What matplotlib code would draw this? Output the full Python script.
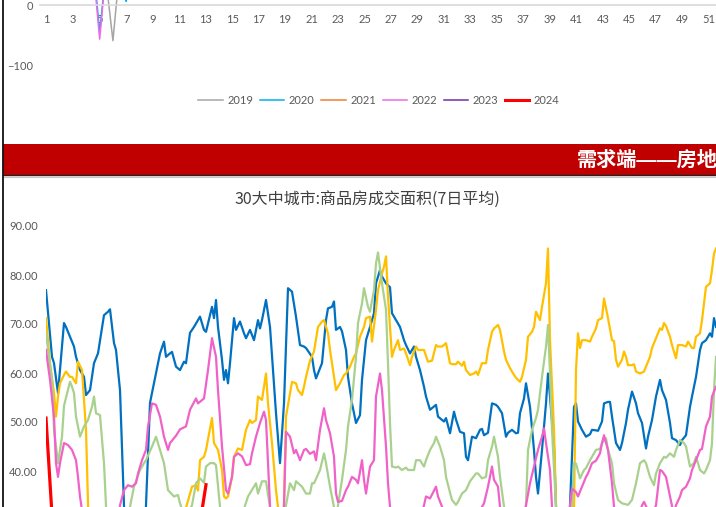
import matplotlib
matplotlib.use("Agg")
import matplotlib.pyplot as plt
from matplotlib.lines import Line2D
from matplotlib.patches import Rectangle
import numpy as np

plt.rcParams['font.family'] = ['Lato', 'Noto Sans CJK SC', 'DejaVu Sans']

# ---- top chart: weekly series, only the bottom strip is visible ----
weeks = list(range(1, 53))
top_years = ['2019', '2020', '2021', '2022', '2023', '2024']
top_colors = ['#A5A5A5', '#00B0F0', '#ED7D31', '#EE6AE6', '#7030A0', '#FF0000']
y2019 = [35, 28, 42, 60, 132, -58.5, 172, 95, 48, 40, 36, 30, 25, 28, 33, 30, 27, 24, 22, 26,
         30, 28, 25, 23, 27, 31, 29, 26, 24, 22, 25, 28, 30, 27, 24, 26, 29, 31, 34, 36,
         33, 30, 28, 26, 29, 32, 35, 38, 40, 37, 34, 45]
y2020 = [40, 55, 70, 186, -45, 168, 6, 120, 150, 210, 180, 140, 110, 90, 70, 60, 50, 45, 40, 38,
         36, 34, 30, 32, 35, 38, 36, 33, 30, 28, 30, 32, 35, 37, 40, 42, 38, 36, 34, 32,
         35, 38, 40, 42, 39, 36, 33, 35, 38, 40, 42, 44]
y2021 = [30, 45, 60, 90, 150, 200, 120, 80, 70, 60, 55, 50, 45, 40, 38, 35, 33, 30, 28, 26,
         25, 24, 22, 20, 22, 24, 23, 21, 20, 19, 18, 20, 22, 21, 19, 18, 17, 19, 21, 20,
         18, 17, 16, 18, 20, 22, 21, 19, 18, 20, 22, 24]
y2022 = [60, 80, 110, 182, -56, 182, 130, 90, 70, 60, 50, 45, 40, 36, 33, 30, 28, 26, 24, 22,
         20, 22, 24, 26, 25, 23, 21, 20, 22, 24, 26, 28, 27, 25, 23, 22, 24, 26, 28, 30,
         29, 27, 25, 24, 26, 28, 30, 32, 31, 29, 28, 30]
y2023 = [90, 130, 160, 140, 110, 100, 150, 120, 90, 80, 70, 65, 60, 55, 50, 48, 45, 42, 40, 38,
         36, 35, 34, 33, 32, 31, 30, 32, 34, 33, 31, 30, 29, 31, 33, 35, 34, 32, 30, 29,
         31, 33, 35, 34, 32, 30, 31, 33, 35, 36, 34, 33]
y2024 = [50, 70, 85, 100, 120, 150, 140, 110, 90, 80, 70, 65, 60]
top_series = [y2019, y2020, y2021, y2022, y2023, y2024]

# ---- bottom chart: 30 cities, 7-day average (day of year, value) ----
s2019 = [(1, 76.9), (4, 63.3), (5, 62), (7, 55.9), (10, 70.2), (11, 69.4), (15, 65.4), (16, 63.3),
         (18, 60.6), (20, 59.2), (21, 55.5), (23, 56.5), (25, 62), (27, 64), (30, 71.8), (32, 72.5),
         (33, 73), (35, 66.1), (36, 64.7), (38, 56.5), (40, 32.7), (43, 15), (46, 8), (49, 14),
         (51, 33), (53, 53.9), (56, 60), (58, 64), (60, 66.4), (61, 63.3), (63, 64), (64, 64.3),
         (66, 61.3), (68, 60.6), (70, 62.3), (71, 62), (73, 68.2), (75, 69.4), (78, 71.5), (80, 68.8),
         (81, 68.4), (84, 73.5), (85, 71.2), (86, 74.9), (87, 69.4), (89, 62.7), (90, 58.6), (91, 60.6),
         (92, 57.9), (93, 62), (95, 71.2), (96, 68.8), (98, 70.5), (100, 68.1), (101, 67.1), (103, 68.8),
         (105, 66.7), (107, 70.8), (108, 69.1), (109, 70.8), (111, 74.9), (113, 69.4), (116, 51.8),
         (118, 41.6), (120, 53.8), (122, 77.3), (124, 76.6), (126, 71.5), (128, 65.7), (130, 65.4),
         (131, 65.1), (134, 63.3), (135, 60.6), (136, 58.9), (139, 62), (141, 70.8), (142, 73.2),
         (144, 73.5), (145, 74.6), (146, 68.8), (148, 69.4), (149, 68.5), (151, 64.7), (152, 59.2),
         (154, 53.8), (156, 49.8), (158, 51.4), (159, 58.6), (161, 66.7), (163, 69.4), (165, 72.2),
         (166, 78.3), (168, 81), (169, 79.7), (171, 78.3), (173, 77.5), (174, 72.2), (176, 70.8),
         (178, 69.4), (180, 66.7), (181, 65.7), (183, 64), (185, 65.4), (186, 63.3), (188, 60.6),
         (190, 57.2), (191, 55.2), (193, 52.5), (196, 53.5), (197, 51.1), (200, 50.1), (201, 50.8),
         (203, 47.7), (205, 52.1), (206, 50.5), (208, 48), (210, 47.7), (211, 42.9), (212, 42.2),
         (214, 47), (216, 46.7), (218, 48.4), (219, 48.6), (220, 47.3), (222, 47.8), (224, 53.8),
         (226, 53.5), (227, 53.1), (229, 51.8), (231, 47), (232, 47.8), (234, 48.4), (236, 47.7),
         (237, 47.8), (238, 51.8), (240, 54.8), (241, 57.9), (243, 53.1), (245, 44.3), (246, 38.8),
         (247, 35.4), (249, 44.3), (251, 53.8), (252, 59.9), (253, 55.2), (255, 45), (256, 32.7),
         (258, 15), (260, 8), (262, 20), (263, 33), (265, 53.1), (266, 53.8), (267, 50.1), (269, 48.4),
         (271, 47), (273, 47.5), (274, 48.4), (276, 48.3), (277, 48.2), (279, 50.1), (280, 53.8),
         (282, 54.1), (283, 54.1), (284, 51.1), (286, 45.7), (288, 44.3), (289, 45.7), (291, 49.8),
         (292, 52.5), (294, 56.2), (296, 53.8), (297, 51.8), (299, 49.8), (301, 44.6), (302, 47),
         (304, 50.4), (306, 55.2), (308, 58.6), (309, 56.5), (311, 54.5), (313, 49.8), (314, 46.7),
         (316, 46.3), (318, 45.3), (319, 46.3), (321, 47.3), (323, 53.1), (324, 55.2), (326, 59.2),
         (328, 64.7), (329, 66.1), (331, 66.7), (333, 68.1), (334, 67.4), (335, 71.2), (336, 69.4)]

s2020 = [(1, 71.2), (3, 62), (5, 55.9), (6, 51.1), (7, 55.2), (8, 57.9), (10, 59.6), (11, 60.3),
         (13, 59.2), (14, 59.2), (16, 57.9), (17, 62.3), (19, 60.6), (21, 48.4), (22, 32.7), (25, 22),
         (30, 10), (35, 5), (40, 4), (45, 6), (50, 10), (55, 15), (60, 20), (65, 24), (71, 32.5),
         (74, 36.8), (76, 37.1), (77, 36), (78, 42.2), (80, 42.9), (81, 44.3), (84, 50.8), (85, 45.7),
         (87, 44.3), (89, 40.2), (90, 34.8), (91, 34.4), (92, 34.8), (94, 38.8), (95, 42.9), (97, 44.6),
         (99, 44.3), (101, 48.4), (103, 50.4), (104, 49.8), (106, 50.4), (107, 55.2), (109, 54.5),
         (111, 59.9), (112, 53.8), (114, 45.7), (116, 36.1), (117, 32.7), (118, 28), (119, 30),
         (120, 33), (121, 51.1), (123, 55.9), (124, 58.2), (126, 57.9), (127, 56.5), (129, 55.5),
         (130, 57.2), (131, 59.2), (133, 62.5), (135, 64.4), (137, 69.4), (139, 70.5), (140, 70.8),
         (142, 68.1), (143, 64.7), (145, 59.2), (146, 56.5), (148, 57.9), (150, 59.6), (151, 59.9),
         (153, 61.3), (155, 63.3), (156, 64), (158, 67.4), (160, 69.4), (161, 71.2), (163, 71.5),
         (164, 66.4), (166, 72.9), (167, 76.9), (169, 80.3), (170, 81.7), (171, 83.8), (172, 75.6),
         (174, 63.3), (175, 64.7), (177, 66.7), (178, 64.7), (180, 65), (181, 64), (183, 61.6),
         (184, 63.3), (186, 65.4), (187, 64.7), (190, 64.7), (192, 62.3), (194, 62.5), (196, 65.7),
         (197, 65.4), (199, 65.4), (201, 66.1), (203, 62), (204, 61.8), (206, 61.8), (207, 62.3),
         (209, 61.5), (210, 62.3), (211, 60.6), (213, 59.6), (215, 59.9), (216, 60.3), (217, 59.6),
         (219, 62), (221, 62), (222, 64.7), (224, 68.4), (225, 69.1), (227, 69.8), (228, 68.8),
         (230, 64.4), (231, 62.7), (233, 61), (235, 59.6), (236, 59), (238, 58.2), (239, 59.2),
         (241, 62.7), (242, 67.4), (244, 68.4), (245, 69.4), (246, 72.5), (248, 70.8), (249, 73.5),
         (251, 78.3), (252, 85.4), (253, 66.7), (255, 48.4), (256, 32.7), (258, 20), (260, 12),
         (262, 15), (265, 32), (266, 60.6), (267, 68.1), (268, 65.1), (269, 66.7), (271, 66.7),
         (273, 66.4), (274, 67.4), (276, 69.1), (277, 70.8), (279, 71.2), (280, 75.2), (282, 71.2),
         (284, 66.7), (285, 66.5), (286, 62.7), (287, 61.3), (289, 62.7), (290, 64.4), (291, 63.3),
         (292, 61.6), (294, 61.6), (295, 61.8), (296, 60.3), (298, 59.9), (300, 60.3), (301, 61.3),
         (303, 63.3), (304, 65.1), (306, 67.1), (308, 69.1), (309, 68.8), (310, 70.2), (311, 69.6),
         (313, 67.4), (314, 65.7), (316, 63), (317, 65.7), (319, 65.7), (321, 65.4), (322, 66.4),
         (324, 65.1), (325, 65.1), (326, 67.4), (328, 68.1), (329, 70.8), (331, 77.6), (333, 78.3),
         (334, 81), (335, 84.4), (336, 85.4)]

s2022 = [(1, 68.1), (4, 58.6), (5, 48.4), (7, 41.6), (9, 47), (10, 53.3), (13, 58.2), (14, 57.2),
         (15, 55.9), (16, 51.1), (18, 47), (20, 49.1), (22, 50.4), (24, 53.1), (25, 55.2), (26, 51.8),
         (28, 51.4), (30, 41.6), (31, 32.7), (33, 22), (36, 12), (39, 14), (41, 25), (43, 32.7),
         (45, 36.8), (48, 40.2), (50, 41.6), (51, 42.2), (54, 45), (56, 47), (58, 44.3), (60, 41.6),
         (62, 36.1), (65, 34.8), (67, 35.1), (68, 33.4), (70, 31), (72, 31.5), (74, 33), (76, 37.5),
         (78, 38.5), (80, 37.6), (81, 40.9), (83, 41.6), (85, 41.6), (86, 41.2), (88, 32.7), (90, 30),
         (93, 29), (96, 30), (99, 31), (102, 34.8), (106, 37.5), (107, 35.4), (109, 37.9), (111, 37.9),
         (113, 32.7), (115, 25), (118, 22), (120, 30), (121, 33), (123, 37.5), (125, 36.1), (126, 37.9),
         (129, 36.8), (131, 35.4), (133, 35.4), (134, 37.5), (135, 37.5), (138, 40.2), (140, 43.6),
         (141, 41.6), (143, 36.8), (145, 32.7), (146, 30), (147, 33), (149, 38.2), (151, 44.3),
         (152, 49.1), (154, 54.5), (156, 63.3), (157, 70.2), (159, 74.2), (160, 77.3), (162, 73.5),
         (163, 72.5), (165, 76.9), (166, 82.4), (167, 84.6), (169, 78.3), (171, 72.9), (172, 62),
         (173, 49.8), (174, 40.9), (176, 40.7), (177, 40.9), (179, 40.2), (181, 40.7), (182, 40.2),
         (185, 40.2), (186, 42.2), (188, 42.2), (190, 40.9), (191, 42.2), (193, 44.3), (195, 45.7),
         (196, 47), (198, 45), (200, 42.2), (201, 38.8), (203, 35.6), (204, 34.1), (206, 33.1),
         (207, 33.7), (209, 35.4), (211, 36.1), (213, 37.9), (216, 39.5), (217, 39.5), (219, 38.5),
         (221, 38.8), (222, 42.2), (224, 45), (225, 47), (227, 42.9), (228, 38.8), (230, 32.7),
         (232, 28), (235, 24), (238, 27), (241, 33), (242, 44.3), (244, 48.4), (246, 50.8), (247, 52.5),
         (249, 59.2), (251, 65.4), (252, 69.8), (253, 59.9), (254, 48.4), (256, 32.7), (258, 18),
         (260, 10), (262, 20), (264, 33), (265, 41.6), (266, 41.5), (268, 38.5), (270, 40.2),
         (271, 40.6), (273, 42.2), (274, 42.9), (276, 44.3), (278, 44.5), (279, 45.7), (281, 46.7),
         (282, 44.3), (284, 41.6), (285, 37.5), (287, 34.1), (289, 33.4), (292, 33.1), (294, 34.1),
         (296, 37.5), (298, 41.6), (300, 42.2), (301, 41.6), (303, 38.8), (305, 37.1), (306, 39.5),
         (308, 41.6), (310, 42.9), (311, 42.7), (313, 43.6), (315, 42.9), (316, 44.3), (318, 46.3),
         (320, 45.7), (321, 45), (323, 40.9), (325, 41.6), (326, 42.9), (328, 40.2), (330, 39.5),
         (331, 40.2), (333, 42.2), (334, 45.7), (335, 56.5), (336, 63.3)]

s2023 = [(1, 64.7), (3, 58.6), (5, 51.1), (6, 41.6), (7, 38.8), (8, 41.6), (10, 45.7), (12, 45.3),
         (14, 44.3), (16, 42.2), (17, 38.8), (18, 34.8), (19, 32), (22, 24), (26, 15), (30, 12),
         (34, 18), (37, 30), (38, 33), (40, 36.1), (42, 37.1), (44, 36.8), (46, 37.5), (47, 39.5),
         (49, 42.2), (51, 44.3), (52, 49.1), (54, 53.8), (56, 53.5), (58, 51.1), (60, 47), (62, 44.3),
         (63, 45.7), (66, 47.2), (68, 48.5), (71, 49.1), (73, 52.5), (76, 54.8), (77, 53.8), (80, 54.8),
         (82, 60.6), (84, 67.1), (86, 63.3), (87, 56.5), (89, 45), (91, 36.1), (92, 35.4), (94, 38.8),
         (95, 42.9), (97, 43.6), (99, 43), (101, 41.2), (103, 41.4), (104, 43.6), (106, 47), (108, 49.8),
         (110, 52.1), (111, 50.4), (113, 32.7), (115, 25), (117, 20), (119, 28), (120, 33), (121, 48),
         (123, 47), (125, 43.6), (126, 44.3), (128, 42.2), (130, 44.3), (131, 44.5), (133, 43.5),
         (135, 44), (136, 42.2), (138, 48.4), (140, 52.8), (141, 50.4), (143, 47.7), (145, 42.9),
         (146, 35.4), (147, 33.7), (149, 33.9), (151, 36.1), (152, 36.8), (154, 38.8), (156, 38.2),
         (157, 37.5), (159, 42.2), (160, 38.2), (161, 35.4), (163, 40.9), (165, 42.2), (166, 55.2),
         (168, 59.9), (169, 56.5), (171, 45), (172, 37.5), (173, 32.7), (176, 28), (180, 25), (184, 27),
         (188, 30), (190, 33), (191, 34.8), (193, 34.4), (196, 36.8), (197, 34.8), (199, 32.7),
         (203, 29), (208, 27), (213, 28), (217, 31), (219, 32.7), (220, 33.4), (222, 36.8), (224, 40.9),
         (225, 38.2), (227, 36.8), (228, 32.7), (232, 27), (236, 24), (239, 29), (241, 33), (243, 37.5),
         (245, 40.9), (247, 44.3), (249, 47), (250, 48.7), (251, 45.7), (253, 40.2), (254, 32.7),
         (256, 20), (259, 10), (261, 18), (263, 33), (264, 36.4), (266, 35.7), (267, 34.8), (269, 36.8),
         (271, 38.8), (272, 39.5), (274, 41.6), (276, 42.1), (278, 43.6), (279, 45.7), (280, 47.3),
         (282, 44.3), (284, 37.5), (285, 32.7), (288, 28), (292, 26), (296, 29), (299, 33), (300, 33.7),
         (302, 32), (304, 31), (306, 33), (308, 40.2), (309, 40), (311, 38.8), (313, 34.8), (314, 32.7),
         (315, 31.5), (316, 33), (318, 34.8), (319, 36.1), (321, 36.8), (323, 38.5), (324, 40.2),
         (326, 42.2), (328, 44.3), (329, 44.5), (331, 49.1), (333, 51.1), (334, 55.2), (336, 57.2)]

s2024 = [(1, 50.8), (4, 31), (8, 27), (12, 24), (16, 22), (20, 20), (25, 17), (30, 12), (35, 6),
         (40, 4), (45, 8), (50, 13), (55, 17), (60, 20), (65, 23), (70, 25), (75, 28), (79, 32),
         (81, 37.2)]

bottom_series = [s2019, s2020, s2022, s2023, s2024]
bottom_colors = ['#0070C0', '#FFC000', '#A9D18E', '#F062C8', '#FF0000']
bottom_widths = [1.6, 1.6, 1.6, 1.6, 2.3]

W, H = 716, 507
fig = plt.figure(figsize=(W / 100, H / 100), dpi=100)
fig.patch.set_facecolor('white')


def add_ax(x0, y0, x1, y1):
    # pixel box -> figure fraction (may run off the canvas, the page is cropped)
    return fig.add_axes([x0 / W, 1 - y1 / H, (x1 - x0) / W, (y1 - y0) / H])


# top chart
ax1 = add_ax(40.1, 5 - 400 * 0.61, 40.1 + 52 * 13.24, 66)
handles = []
for yr, vals, c in zip(top_years, top_series, top_colors):
    lw = 2.2 if yr == '2024' else 1.1
    ln, = ax1.plot(weeks[:len(vals)], vals, color=c, lw=lw)
    handles.append(ln)
ax1.set_xlim(0.5, 52.5)
ax1.set_ylim(-100, 400)
ax1.set_xticks(weeks[::2])
ax1.set_xticklabels([str(w) for w in weeks[::2]])
ax1.set_yticks([-100, 0])
for s in ['top', 'right', 'left']:
    ax1.spines[s].set_visible(False)
ax1.spines['bottom'].set_position(('data', 0))
ax1.spines['bottom'].set_color('#D9D9D9')
ax1.spines['bottom'].set_linewidth(1.2)
ax1.tick_params(axis='x', length=0, pad=6.5, labelsize=8, labelcolor='#595959')
ax1.tick_params(axis='y', length=0, pad=5, labelsize=8, labelcolor='#595959')
ax1.patch.set_alpha(0)

fig.legend(handles, top_years, loc='center', bbox_to_anchor=(379 / W, 1 - 100 / H),
           ncol=6, frameon=False, fontsize=8, handlelength=2.2, handletextpad=0.4,
           columnspacing=0.6, labelcolor='#595959')

# red banner
fig.patches.append(Rectangle((2.5 / W, 1 - 175 / H), 1, 31 / H, transform=fig.transFigure,
                             facecolor='#C00000', edgecolor='none', zorder=0))
fig.add_artist(Line2D([2.5 / W, 1], [1 - 175 / H] * 2, color='#222222', lw=1))
fig.add_artist(Line2D([2.5 / W, 1], [1 - 176.8 / H] * 2, color='#C8C8C8', lw=0.8))
fig.text(577 / W, 1 - 160 / H, '需求端——房地产', color='white', fontsize=14.5,
         fontweight='bold', ha='left', va='center',
         family=['Liberation Sans', 'Noto Sans CJK SC', 'DejaVu Sans'])

# bottom chart
ax2 = add_ax(46, 226, 46 + 365 * 2, 226 + 90 * 4.9)
for pts, c, lw in zip(bottom_series, bottom_colors, bottom_widths):
    d = [p[0] for p in pts]
    v = [p[1] for p in pts]
    ax2.plot(d, v, color=c, lw=lw)
ax2.set_xlim(1, 366)
ax2.set_ylim(0, 90)
ax2.set_yticks(np.arange(40, 91, 10))
ax2.set_yticklabels(['%.2f' % t for t in np.arange(40, 91, 10)])
ax2.set_xticks([])
for s in ax2.spines.values():
    s.set_visible(False)
ax2.tick_params(axis='y', length=0, pad=6, labelsize=8, labelcolor='#595959')
ax2.patch.set_alpha(0)

fig.text(367 / W, 1 - 199 / H, '30大中城市:商品房成交面积(7日平均)', fontsize=11.5,
         color='#404040', ha='center', va='center', family=['Noto Sans CJK SC', 'DejaVu Sans'])

# left page border
fig.add_artist(Line2D([2.5 / W] * 2, [0, 1], color='#111111', lw=1.3))

fig.savefig('out.png', dpi=100)
